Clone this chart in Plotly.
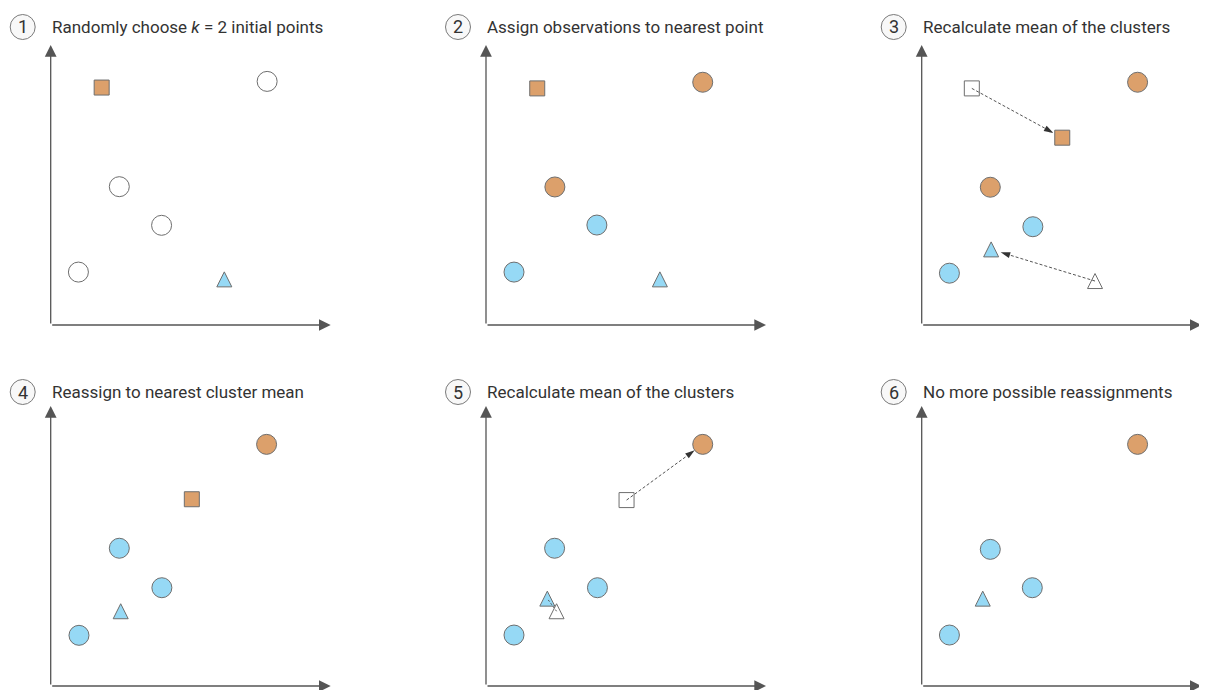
import plotly.graph_objects as go

# page body has an 8px default margin; figure is placed at (8, 8)
OFF = 8
W, H = 1207 - OFF, 690 - OFF

# ---------------- data ----------------
titles = [
    "Randomly choose <i>k</i> = 2 initial points",
    "Assign observations to nearest point",
    "Recalculate mean of the clusters",
    "Reassign to nearest cluster mean",
    "Recalculate mean of the clusters",
    "No more possible reassignments",
]
step_numbers = ["1", "2", "3", "4", "5", "6"]

# observations per panel (x, y, cluster)
obs_x = [
    [7.73, 2.45, 3.96, 0.99],
    [7.74, 2.46, 3.96, 1.00],
    [7.71, 2.45, 3.97, 0.99],
    [7.71, 2.45, 3.97, 1.01],
    [7.74, 2.45, 3.98, 1.00],
    [7.71, 2.45, 3.95, 0.99],
]
obs_y = [
    [8.70, 4.94, 3.56, 1.89],
    [8.67, 4.93, 3.57, 1.89],
    [8.67, 4.92, 3.51, 1.85],
    [8.63, 4.92, 3.51, 1.81],
    [8.63, 4.92, 3.51, 1.82],
    [8.63, 4.88, 3.51, 1.82],
]
obs_c = [
    ["none", "none", "none", "none"],
    ["orange", "orange", "blue", "blue"],
    ["orange", "orange", "blue", "blue"],
    ["orange", "blue", "blue", "blue"],
    ["orange", "blue", "blue", "blue"],
    ["orange", "blue", "blue", "blue"],
]

# cluster means per panel (x, y, shape, state)
cen_x = [
    [1.82, 6.20],
    [1.83, 6.21],
    [1.79, 6.19, 5.02, 2.48],
    [5.04, 2.50],
    [2.19, 5.02, 2.52],
    [2.18],
]
cen_y = [
    [8.48, 1.63],
    [8.45, 1.63],
    [8.45, 1.57, 6.69, 2.70],
    [6.67, 2.67],
    [3.12, 6.64, 2.67],
    [3.12],
]
cen_shape = [
    ["square", "triangle"],
    ["square", "triangle"],
    ["square", "triangle", "square", "triangle"],
    ["square", "triangle"],
    ["triangle", "square", "triangle"],
    ["triangle"],
]
cen_c = [
    ["orange", "blue"],
    ["orange", "blue"],
    ["none", "none", "orange", "blue"],
    ["orange", "blue"],
    ["blue", "none", "none"],
    ["blue"],
]

# movement arrows per panel: (x0, y0) -> (x1, y1)
mv_x0 = [[], [], [1.79, 6.19], [], [5.02, 2.52], []]
mv_y0 = [[], [], [8.45, 1.57], [], [6.64, 2.67], []]
mv_x1 = [[], [], [5.02, 2.48], [], [7.74, 2.19], []]
mv_y1 = [[], [], [6.69, 2.70], [], [8.63, 3.12], []]
mv_head = [[], [], [True, True], [], [True, False], []]

# ---------------- style ----------------
FILL = {"orange": "#DCA06B", "blue": "#96D9F5", "none": "#FFFFFF"}
EDGE = "#6E6E6E"
TEXT = "#333333"
FONT = "Roboto"
TRI = 15     # triangle size (px)
SQ = 15      # square size (px)

ox_px = [50.7 - OFF, 486.0 - OFF, 921.7 - OFF]
oy_px = [325.0 - OFF, 686.0 - OFF]
SIDE = 280.0

fig = go.Figure()
layout_axes = {}
annotations = []
shapes = []

for i in range(6):
    n = i + 1
    col, row = i % 3, i // 3
    ox, oy = ox_px[col], oy_px[row]
    xa = "x" if n == 1 else f"x{n}"
    ya = "y" if n == 1 else f"y{n}"
    layout_axes["xaxis" if n == 1 else f"xaxis{n}"] = dict(
        domain=[ox / W, (ox + SIDE) / W], range=[0, 10], visible=False,
        anchor=ya, fixedrange=True)
    layout_axes["yaxis" if n == 1 else f"yaxis{n}"] = dict(
        domain=[1 - oy / H, 1 - (oy - SIDE) / H], range=[0, 10], visible=False,
        anchor=xa, fixedrange=True)

    # axis arrows
    for (tx, ty) in [(10, 0), (0, 10)]:
        annotations.append(dict(
            x=tx, y=ty, ax=0, ay=0, xref=xa, yref=ya, axref=xa, ayref=ya,
            text="", showarrow=True, arrowhead=2, arrowsize=1.8,
            arrowwidth=1.3, arrowcolor="#555555"))

    # observations
    fig.add_trace(go.Scatter(
        x=obs_x[i], y=obs_y[i], xaxis=xa, yaxis=ya, mode="markers",
        marker=dict(symbol="circle", size=20, opacity=1,
                    color=[FILL[c] for c in obs_c[i]],
                    line=dict(color=EDGE, width=1)),
        hoverinfo="skip", showlegend=False))

    # cluster means (triangles drawn as rotated 'arrow-down' for a tall shape)
    syms = ["square" if s == "square" else "arrow-down" for s in cen_shape[i]]
    sizes = [SQ if s == "square" else TRI for s in cen_shape[i]]
    angles = [0 if s == "square" else 180 for s in cen_shape[i]]
    stand = [0 if s == "square" else TRI / 2 for s in cen_shape[i]]
    fig.add_trace(go.Scatter(
        x=cen_x[i], y=cen_y[i], xaxis=xa, yaxis=ya, mode="markers",
        marker=dict(symbol=syms, size=sizes, angle=angles, standoff=stand,
                    opacity=1,
                    color=[FILL[c] for c in cen_c[i]],
                    line=dict(color=EDGE, width=1)),
        hoverinfo="skip", showlegend=False))

    # movement arrows
    for k in range(len(mv_x0[i])):
        if mv_head[i][k]:
            fig.add_trace(go.Scatter(
                x=[mv_x0[i][k], mv_x1[i][k]], y=[mv_y0[i][k], mv_y1[i][k]],
                xaxis=xa, yaxis=ya, mode="lines+markers",
                line=dict(color="#555555", width=1, dash="3px,2px"),
                marker=dict(symbol=["circle", "arrow"], size=[0, 10],
                            opacity=1,
                            color=["rgba(0,0,0,0)", "#333333"],
                            angleref="previous", standoff=[0, 10],
                            line=dict(width=0)),
                cliponaxis=False, hoverinfo="skip", showlegend=False))
        else:
            fig.add_trace(go.Scatter(
                x=[mv_x0[i][k], mv_x1[i][k]], y=[mv_y0[i][k], mv_y1[i][k]],
                xaxis=xa, yaxis=ya, mode="lines",
                line=dict(color="#555555", width=1, dash="2px,2px", backoff=8),
                hoverinfo="skip", showlegend=False))

    # title with circled number
    ty_px = (27 if row == 0 else 392) - OFF
    cx_px = ox - 28
    shapes.append(dict(
        type="circle", xref="paper", yref="paper",
        xsizemode="pixel", ysizemode="pixel",
        xanchor=cx_px / W, yanchor=1 - ty_px / H,
        x0=-12.5, x1=12.5, y0=-12.5, y1=12.5,
        line=dict(color="#7A7A7A", width=1), fillcolor="#F8F8F8", layer="below"))
    annotations.append(dict(
        x=cx_px / W, y=1 - ty_px / H, xref="paper", yref="paper",
        text=step_numbers[i], showarrow=False, xanchor="center", yanchor="middle",
        font=dict(family=FONT, size=18, color=TEXT)))
    annotations.append(dict(
        x=(ox - 1) / W, y=1 - ty_px / H, xref="paper", yref="paper",
        text=titles[i], showarrow=False, xanchor="left", yanchor="middle",
        font=dict(family=FONT, size=17, color=TEXT)))

fig.update_layout(
    width=W, height=H, margin=dict(l=0, r=0, t=0, b=0),
    paper_bgcolor="white", plot_bgcolor="white",
    annotations=annotations, shapes=shapes, showlegend=False,
    font=dict(family=FONT, color=TEXT),
    **layout_axes)

fig.write_html("out.html")
